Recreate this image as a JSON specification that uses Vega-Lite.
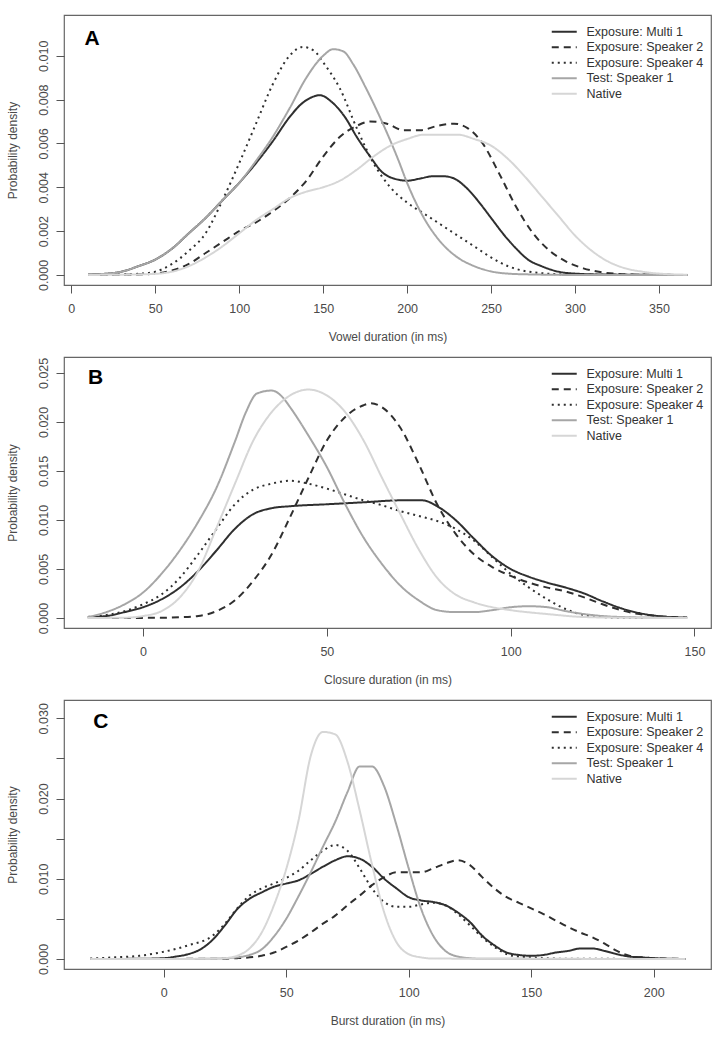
{
"$schema": "https://vega.github.io/schema/vega-lite/v6.json",
"padding": {"left": 5, "top": 14, "right": 14, "bottom": 5},
"bounds": "flush",
"spacing": 72,
"config": {
 "view": {"stroke": "#666666", "strokeWidth": 1.2},
 "axis": {"grid": false, "domain": false, "tickColor": "#555555", "tickSize": 8, "tickWidth": 1, "labelFont": "Liberation Sans", "labelFontSize": 12.5, "labelColor": "#4a4a4a", "titleFont": "Liberation Sans", "titleFontSize": 12, "titleFontWeight": "normal", "titleColor": "#4a4a4a"},
 "axisX": {"labelPadding": 9, "titlePadding": 17, "labelFlush": false, "labelOverlap": false},
 "axisY": {"labelAngle": 270, "labelAlign": "center", "labelBaseline": "bottom", "labelPadding": 6, "titlePadding": 18, "labelOverlap": false},
 "legend": {"orient": "none", "legendX": 494, "legendY": 10.5, "symbolType": "M-4,0H4", "symbolSize": 39, "symbolStrokeWidth": 2, "labelFont": "Liberation Sans", "labelFontSize": 12.5, "labelColor": "#333333", "labelOffset": 16, "rowPadding": 2.5, "labelLimit": 300}
},
"resolve": {"scale": {"x": "independent", "y": "independent", "color": "independent", "strokeDash": "independent"}, "legend": {"color": "independent", "strokeDash": "independent"}},
"datasets": {
"A": [
{"s":"Exposure: Multi 1","x":10,"y":0.00002},{"s":"Exposure: Multi 1","x":20,"y":0.00005},{"s":"Exposure: Multi 1","x":30,"y":0.00015},{"s":"Exposure: Multi 1","x":40,"y":0.0004},{"s":"Exposure: Multi 1","x":50,"y":0.0007},{"s":"Exposure: Multi 1","x":60,"y":0.0012},{"s":"Exposure: Multi 1","x":70,"y":0.0019},{"s":"Exposure: Multi 1","x":80,"y":0.0026},{"s":"Exposure: Multi 1","x":90,"y":0.0034},{"s":"Exposure: Multi 1","x":100,"y":0.0042},{"s":"Exposure: Multi 1","x":110,"y":0.0051},{"s":"Exposure: Multi 1","x":120,"y":0.0061},{"s":"Exposure: Multi 1","x":130,"y":0.0072},{"s":"Exposure: Multi 1","x":137,"y":0.0078},{"s":"Exposure: Multi 1","x":143,"y":0.0081},{"s":"Exposure: Multi 1","x":148,"y":0.0082},{"s":"Exposure: Multi 1","x":155,"y":0.0079},{"s":"Exposure: Multi 1","x":163,"y":0.0072},{"s":"Exposure: Multi 1","x":170,"y":0.0063},{"s":"Exposure: Multi 1","x":178,"y":0.0054},{"s":"Exposure: Multi 1","x":185,"y":0.0047},{"s":"Exposure: Multi 1","x":192,"y":0.0044},{"s":"Exposure: Multi 1","x":200,"y":0.0043},{"s":"Exposure: Multi 1","x":208,"y":0.0044},{"s":"Exposure: Multi 1","x":215,"y":0.0045},{"s":"Exposure: Multi 1","x":222,"y":0.0045},{"s":"Exposure: Multi 1","x":228,"y":0.0044},{"s":"Exposure: Multi 1","x":235,"y":0.004},{"s":"Exposure: Multi 1","x":242,"y":0.0034},{"s":"Exposure: Multi 1","x":250,"y":0.0026},{"s":"Exposure: Multi 1","x":258,"y":0.0018},{"s":"Exposure: Multi 1","x":265,"y":0.0012},{"s":"Exposure: Multi 1","x":272,"y":0.0007},{"s":"Exposure: Multi 1","x":280,"y":0.0004},{"s":"Exposure: Multi 1","x":290,"y":0.00015},{"s":"Exposure: Multi 1","x":300,"y":0.00006},{"s":"Exposure: Multi 1","x":315,"y":0.00002},{"s":"Exposure: Multi 1","x":367,"y":0},
{"s":"Exposure: Speaker 2","x":10,"y":0},{"s":"Exposure: Speaker 2","x":40,"y":0.00002},{"s":"Exposure: Speaker 2","x":50,"y":0.00006},{"s":"Exposure: Speaker 2","x":60,"y":0.0002},{"s":"Exposure: Speaker 2","x":70,"y":0.0005},{"s":"Exposure: Speaker 2","x":80,"y":0.001},{"s":"Exposure: Speaker 2","x":90,"y":0.0015},{"s":"Exposure: Speaker 2","x":100,"y":0.002},{"s":"Exposure: Speaker 2","x":110,"y":0.0024},{"s":"Exposure: Speaker 2","x":120,"y":0.0029},{"s":"Exposure: Speaker 2","x":130,"y":0.0035},{"s":"Exposure: Speaker 2","x":140,"y":0.0043},{"s":"Exposure: Speaker 2","x":150,"y":0.0054},{"s":"Exposure: Speaker 2","x":160,"y":0.0063},{"s":"Exposure: Speaker 2","x":170,"y":0.0068},{"s":"Exposure: Speaker 2","x":178,"y":0.007},{"s":"Exposure: Speaker 2","x":188,"y":0.0069},{"s":"Exposure: Speaker 2","x":198,"y":0.0066},{"s":"Exposure: Speaker 2","x":208,"y":0.0066},{"s":"Exposure: Speaker 2","x":218,"y":0.0068},{"s":"Exposure: Speaker 2","x":228,"y":0.0069},{"s":"Exposure: Speaker 2","x":236,"y":0.0067},{"s":"Exposure: Speaker 2","x":245,"y":0.006},{"s":"Exposure: Speaker 2","x":255,"y":0.0046},{"s":"Exposure: Speaker 2","x":265,"y":0.0031},{"s":"Exposure: Speaker 2","x":275,"y":0.0019},{"s":"Exposure: Speaker 2","x":285,"y":0.0011},{"s":"Exposure: Speaker 2","x":295,"y":0.0006},{"s":"Exposure: Speaker 2","x":305,"y":0.0003},{"s":"Exposure: Speaker 2","x":315,"y":0.00013},{"s":"Exposure: Speaker 2","x":325,"y":0.00005},{"s":"Exposure: Speaker 2","x":340,"y":0.00001},{"s":"Exposure: Speaker 2","x":367,"y":0},
{"s":"Exposure: Speaker 4","x":10,"y":0},{"s":"Exposure: Speaker 4","x":30,"y":0.00002},{"s":"Exposure: Speaker 4","x":40,"y":0.00005},{"s":"Exposure: Speaker 4","x":50,"y":0.00015},{"s":"Exposure: Speaker 4","x":60,"y":0.0005},{"s":"Exposure: Speaker 4","x":70,"y":0.0011},{"s":"Exposure: Speaker 4","x":80,"y":0.0019},{"s":"Exposure: Speaker 4","x":90,"y":0.0034},{"s":"Exposure: Speaker 4","x":100,"y":0.0051},{"s":"Exposure: Speaker 4","x":110,"y":0.0069},{"s":"Exposure: Speaker 4","x":120,"y":0.0087},{"s":"Exposure: Speaker 4","x":130,"y":0.01},{"s":"Exposure: Speaker 4","x":138,"y":0.0104},{"s":"Exposure: Speaker 4","x":145,"y":0.0102},{"s":"Exposure: Speaker 4","x":150,"y":0.0097},{"s":"Exposure: Speaker 4","x":160,"y":0.0085},{"s":"Exposure: Speaker 4","x":170,"y":0.0067},{"s":"Exposure: Speaker 4","x":180,"y":0.0051},{"s":"Exposure: Speaker 4","x":190,"y":0.004},{"s":"Exposure: Speaker 4","x":200,"y":0.0033},{"s":"Exposure: Speaker 4","x":210,"y":0.0028},{"s":"Exposure: Speaker 4","x":220,"y":0.0023},{"s":"Exposure: Speaker 4","x":230,"y":0.0018},{"s":"Exposure: Speaker 4","x":240,"y":0.0013},{"s":"Exposure: Speaker 4","x":250,"y":0.0008},{"s":"Exposure: Speaker 4","x":260,"y":0.0004},{"s":"Exposure: Speaker 4","x":270,"y":0.00018},{"s":"Exposure: Speaker 4","x":280,"y":0.00008},{"s":"Exposure: Speaker 4","x":300,"y":0.00001},{"s":"Exposure: Speaker 4","x":367,"y":0},
{"s":"Test: Speaker 1","x":10,"y":0.00002},{"s":"Test: Speaker 1","x":20,"y":0.00005},{"s":"Test: Speaker 1","x":30,"y":0.00015},{"s":"Test: Speaker 1","x":40,"y":0.0004},{"s":"Test: Speaker 1","x":50,"y":0.0007},{"s":"Test: Speaker 1","x":60,"y":0.0012},{"s":"Test: Speaker 1","x":70,"y":0.0019},{"s":"Test: Speaker 1","x":80,"y":0.0026},{"s":"Test: Speaker 1","x":90,"y":0.0034},{"s":"Test: Speaker 1","x":100,"y":0.0042},{"s":"Test: Speaker 1","x":110,"y":0.0052},{"s":"Test: Speaker 1","x":120,"y":0.0063},{"s":"Test: Speaker 1","x":130,"y":0.0076},{"s":"Test: Speaker 1","x":140,"y":0.009},{"s":"Test: Speaker 1","x":150,"y":0.01},{"s":"Test: Speaker 1","x":156,"y":0.0103},{"s":"Test: Speaker 1","x":162,"y":0.0102},{"s":"Test: Speaker 1","x":168,"y":0.0096},{"s":"Test: Speaker 1","x":175,"y":0.0086},{"s":"Test: Speaker 1","x":185,"y":0.007},{"s":"Test: Speaker 1","x":195,"y":0.0052},{"s":"Test: Speaker 1","x":200,"y":0.0042},{"s":"Test: Speaker 1","x":210,"y":0.0026},{"s":"Test: Speaker 1","x":220,"y":0.0015},{"s":"Test: Speaker 1","x":230,"y":0.0008},{"s":"Test: Speaker 1","x":240,"y":0.0004},{"s":"Test: Speaker 1","x":250,"y":0.00016},{"s":"Test: Speaker 1","x":260,"y":0.00006},{"s":"Test: Speaker 1","x":275,"y":0.00002},{"s":"Test: Speaker 1","x":300,"y":0},{"s":"Test: Speaker 1","x":367,"y":0},
{"s":"Native","x":10,"y":0},{"s":"Native","x":30,"y":0.00001},{"s":"Native","x":50,"y":0.00005},{"s":"Native","x":60,"y":0.00015},{"s":"Native","x":70,"y":0.0004},{"s":"Native","x":80,"y":0.0008},{"s":"Native","x":90,"y":0.0013},{"s":"Native","x":100,"y":0.0019},{"s":"Native","x":110,"y":0.0025},{"s":"Native","x":120,"y":0.003},{"s":"Native","x":130,"y":0.0035},{"s":"Native","x":140,"y":0.0038},{"s":"Native","x":150,"y":0.004},{"s":"Native","x":160,"y":0.0043},{"s":"Native","x":170,"y":0.0048},{"s":"Native","x":180,"y":0.0054},{"s":"Native","x":190,"y":0.0059},{"s":"Native","x":200,"y":0.0062},{"s":"Native","x":210,"y":0.0064},{"s":"Native","x":220,"y":0.0064},{"s":"Native","x":230,"y":0.0064},{"s":"Native","x":240,"y":0.0062},{"s":"Native","x":250,"y":0.0059},{"s":"Native","x":260,"y":0.0053},{"s":"Native","x":270,"y":0.0045},{"s":"Native","x":280,"y":0.0036},{"s":"Native","x":290,"y":0.0027},{"s":"Native","x":300,"y":0.0018},{"s":"Native","x":310,"y":0.0011},{"s":"Native","x":320,"y":0.0006},{"s":"Native","x":330,"y":0.0003},{"s":"Native","x":340,"y":0.00015},{"s":"Native","x":350,"y":0.00006},{"s":"Native","x":367,"y":0.00001}
],
"B": [
{"s":"Exposure: Multi 1","x":-15,"y":0.0001},{"s":"Exposure: Multi 1","x":-10,"y":0.0002},{"s":"Exposure: Multi 1","x":-5,"y":0.0006},{"s":"Exposure: Multi 1","x":0,"y":0.0011},{"s":"Exposure: Multi 1","x":5,"y":0.0019},{"s":"Exposure: Multi 1","x":10,"y":0.0031},{"s":"Exposure: Multi 1","x":15,"y":0.0048},{"s":"Exposure: Multi 1","x":20,"y":0.0069},{"s":"Exposure: Multi 1","x":25,"y":0.0091},{"s":"Exposure: Multi 1","x":30,"y":0.0106},{"s":"Exposure: Multi 1","x":35,"y":0.0112},{"s":"Exposure: Multi 1","x":40,"y":0.0114},{"s":"Exposure: Multi 1","x":50,"y":0.0116},{"s":"Exposure: Multi 1","x":60,"y":0.0118},{"s":"Exposure: Multi 1","x":70,"y":0.012},{"s":"Exposure: Multi 1","x":76,"y":0.012},{"s":"Exposure: Multi 1","x":80,"y":0.0114},{"s":"Exposure: Multi 1","x":85,"y":0.01},{"s":"Exposure: Multi 1","x":90,"y":0.0081},{"s":"Exposure: Multi 1","x":95,"y":0.0063},{"s":"Exposure: Multi 1","x":100,"y":0.005},{"s":"Exposure: Multi 1","x":105,"y":0.0042},{"s":"Exposure: Multi 1","x":110,"y":0.0036},{"s":"Exposure: Multi 1","x":115,"y":0.0031},{"s":"Exposure: Multi 1","x":120,"y":0.0025},{"s":"Exposure: Multi 1","x":125,"y":0.0017},{"s":"Exposure: Multi 1","x":130,"y":0.001},{"s":"Exposure: Multi 1","x":135,"y":0.0005},{"s":"Exposure: Multi 1","x":140,"y":0.0002},{"s":"Exposure: Multi 1","x":148,"y":0.00003},
{"s":"Exposure: Speaker 2","x":-15,"y":0},{"s":"Exposure: Speaker 2","x":5,"y":0.00002},{"s":"Exposure: Speaker 2","x":10,"y":0.00008},{"s":"Exposure: Speaker 2","x":15,"y":0.0002},{"s":"Exposure: Speaker 2","x":20,"y":0.0007},{"s":"Exposure: Speaker 2","x":25,"y":0.0018},{"s":"Exposure: Speaker 2","x":30,"y":0.0038},{"s":"Exposure: Speaker 2","x":35,"y":0.0065},{"s":"Exposure: Speaker 2","x":40,"y":0.0103},{"s":"Exposure: Speaker 2","x":45,"y":0.0143},{"s":"Exposure: Speaker 2","x":50,"y":0.0181},{"s":"Exposure: Speaker 2","x":55,"y":0.0205},{"s":"Exposure: Speaker 2","x":60,"y":0.0217},{"s":"Exposure: Speaker 2","x":62,"y":0.0219},{"s":"Exposure: Speaker 2","x":65,"y":0.0215},{"s":"Exposure: Speaker 2","x":70,"y":0.0194},{"s":"Exposure: Speaker 2","x":75,"y":0.0157},{"s":"Exposure: Speaker 2","x":80,"y":0.0116},{"s":"Exposure: Speaker 2","x":85,"y":0.0086},{"s":"Exposure: Speaker 2","x":90,"y":0.0065},{"s":"Exposure: Speaker 2","x":95,"y":0.0052},{"s":"Exposure: Speaker 2","x":100,"y":0.0043},{"s":"Exposure: Speaker 2","x":105,"y":0.0036},{"s":"Exposure: Speaker 2","x":110,"y":0.0031},{"s":"Exposure: Speaker 2","x":115,"y":0.0027},{"s":"Exposure: Speaker 2","x":120,"y":0.0021},{"s":"Exposure: Speaker 2","x":125,"y":0.0014},{"s":"Exposure: Speaker 2","x":130,"y":0.0008},{"s":"Exposure: Speaker 2","x":135,"y":0.0004},{"s":"Exposure: Speaker 2","x":140,"y":0.0002},{"s":"Exposure: Speaker 2","x":148,"y":0.00005},
{"s":"Exposure: Speaker 4","x":-15,"y":0.0001},{"s":"Exposure: Speaker 4","x":-10,"y":0.0003},{"s":"Exposure: Speaker 4","x":-5,"y":0.0007},{"s":"Exposure: Speaker 4","x":0,"y":0.0014},{"s":"Exposure: Speaker 4","x":5,"y":0.0024},{"s":"Exposure: Speaker 4","x":10,"y":0.0041},{"s":"Exposure: Speaker 4","x":15,"y":0.0065},{"s":"Exposure: Speaker 4","x":20,"y":0.0091},{"s":"Exposure: Speaker 4","x":25,"y":0.0116},{"s":"Exposure: Speaker 4","x":30,"y":0.0131},{"s":"Exposure: Speaker 4","x":35,"y":0.0137},{"s":"Exposure: Speaker 4","x":40,"y":0.014},{"s":"Exposure: Speaker 4","x":45,"y":0.0137},{"s":"Exposure: Speaker 4","x":50,"y":0.0132},{"s":"Exposure: Speaker 4","x":55,"y":0.0126},{"s":"Exposure: Speaker 4","x":60,"y":0.012},{"s":"Exposure: Speaker 4","x":65,"y":0.0115},{"s":"Exposure: Speaker 4","x":70,"y":0.0109},{"s":"Exposure: Speaker 4","x":75,"y":0.0104},{"s":"Exposure: Speaker 4","x":80,"y":0.0099},{"s":"Exposure: Speaker 4","x":85,"y":0.0091},{"s":"Exposure: Speaker 4","x":90,"y":0.0079},{"s":"Exposure: Speaker 4","x":95,"y":0.0062},{"s":"Exposure: Speaker 4","x":100,"y":0.0045},{"s":"Exposure: Speaker 4","x":105,"y":0.0031},{"s":"Exposure: Speaker 4","x":110,"y":0.0019},{"s":"Exposure: Speaker 4","x":115,"y":0.0009},{"s":"Exposure: Speaker 4","x":120,"y":0.0003},{"s":"Exposure: Speaker 4","x":125,"y":0.0001},{"s":"Exposure: Speaker 4","x":130,"y":0.00002},{"s":"Exposure: Speaker 4","x":148,"y":0},
{"s":"Test: Speaker 1","x":-15,"y":0.0001},{"s":"Test: Speaker 1","x":-10,"y":0.0006},{"s":"Test: Speaker 1","x":-5,"y":0.0014},{"s":"Test: Speaker 1","x":0,"y":0.0026},{"s":"Test: Speaker 1","x":5,"y":0.0045},{"s":"Test: Speaker 1","x":10,"y":0.0069},{"s":"Test: Speaker 1","x":15,"y":0.0098},{"s":"Test: Speaker 1","x":20,"y":0.0133},{"s":"Test: Speaker 1","x":25,"y":0.018},{"s":"Test: Speaker 1","x":28,"y":0.021},{"s":"Test: Speaker 1","x":31,"y":0.0229},{"s":"Test: Speaker 1","x":35,"y":0.0232},{"s":"Test: Speaker 1","x":38,"y":0.0225},{"s":"Test: Speaker 1","x":40,"y":0.0215},{"s":"Test: Speaker 1","x":45,"y":0.0186},{"s":"Test: Speaker 1","x":50,"y":0.0154},{"s":"Test: Speaker 1","x":55,"y":0.0116},{"s":"Test: Speaker 1","x":60,"y":0.0082},{"s":"Test: Speaker 1","x":65,"y":0.0055},{"s":"Test: Speaker 1","x":70,"y":0.0033},{"s":"Test: Speaker 1","x":75,"y":0.0018},{"s":"Test: Speaker 1","x":80,"y":0.0008},{"s":"Test: Speaker 1","x":85,"y":0.0006},{"s":"Test: Speaker 1","x":90,"y":0.0006},{"s":"Test: Speaker 1","x":95,"y":0.0008},{"s":"Test: Speaker 1","x":100,"y":0.0011},{"s":"Test: Speaker 1","x":105,"y":0.0012},{"s":"Test: Speaker 1","x":110,"y":0.0011},{"s":"Test: Speaker 1","x":115,"y":0.0007},{"s":"Test: Speaker 1","x":120,"y":0.0004},{"s":"Test: Speaker 1","x":125,"y":0.0002},{"s":"Test: Speaker 1","x":130,"y":0.0001},{"s":"Test: Speaker 1","x":148,"y":0},
{"s":"Native","x":-15,"y":0},{"s":"Native","x":-5,"y":0.00003},{"s":"Native","x":0,"y":0.0002},{"s":"Native","x":5,"y":0.0007},{"s":"Native","x":10,"y":0.0021},{"s":"Native","x":15,"y":0.0048},{"s":"Native","x":20,"y":0.0092},{"s":"Native","x":25,"y":0.0137},{"s":"Native","x":30,"y":0.0181},{"s":"Native","x":35,"y":0.021},{"s":"Native","x":40,"y":0.0227},{"s":"Native","x":45,"y":0.0233},{"s":"Native","x":50,"y":0.0227},{"s":"Native","x":55,"y":0.021},{"s":"Native","x":60,"y":0.0181},{"s":"Native","x":65,"y":0.0143},{"s":"Native","x":70,"y":0.0106},{"s":"Native","x":75,"y":0.007},{"s":"Native","x":80,"y":0.0041},{"s":"Native","x":85,"y":0.0024},{"s":"Native","x":90,"y":0.0016},{"s":"Native","x":95,"y":0.0011},{"s":"Native","x":100,"y":0.0008},{"s":"Native","x":110,"y":0.0004},{"s":"Native","x":120,"y":0.0001},{"s":"Native","x":130,"y":0.00003},{"s":"Native","x":148,"y":0}
],
"C": [
{"s":"Exposure: Multi 1","x":-30,"y":0},{"s":"Exposure: Multi 1","x":-10,"y":0.00002},{"s":"Exposure: Multi 1","x":0,"y":0.0001},{"s":"Exposure: Multi 1","x":5,"y":0.0003},{"s":"Exposure: Multi 1","x":10,"y":0.0006},{"s":"Exposure: Multi 1","x":15,"y":0.0012},{"s":"Exposure: Multi 1","x":20,"y":0.0024},{"s":"Exposure: Multi 1","x":25,"y":0.0042},{"s":"Exposure: Multi 1","x":30,"y":0.0062},{"s":"Exposure: Multi 1","x":35,"y":0.0075},{"s":"Exposure: Multi 1","x":40,"y":0.0083},{"s":"Exposure: Multi 1","x":45,"y":0.009},{"s":"Exposure: Multi 1","x":50,"y":0.0094},{"s":"Exposure: Multi 1","x":55,"y":0.0098},{"s":"Exposure: Multi 1","x":60,"y":0.0106},{"s":"Exposure: Multi 1","x":65,"y":0.0115},{"s":"Exposure: Multi 1","x":70,"y":0.0123},{"s":"Exposure: Multi 1","x":75,"y":0.0128},{"s":"Exposure: Multi 1","x":80,"y":0.0125},{"s":"Exposure: Multi 1","x":85,"y":0.0115},{"s":"Exposure: Multi 1","x":90,"y":0.01},{"s":"Exposure: Multi 1","x":95,"y":0.0088},{"s":"Exposure: Multi 1","x":100,"y":0.0077},{"s":"Exposure: Multi 1","x":105,"y":0.0073},{"s":"Exposure: Multi 1","x":110,"y":0.0071},{"s":"Exposure: Multi 1","x":115,"y":0.0067},{"s":"Exposure: Multi 1","x":120,"y":0.0058},{"s":"Exposure: Multi 1","x":125,"y":0.0046},{"s":"Exposure: Multi 1","x":130,"y":0.0029},{"s":"Exposure: Multi 1","x":135,"y":0.0017},{"s":"Exposure: Multi 1","x":140,"y":0.0008},{"s":"Exposure: Multi 1","x":145,"y":0.0005},{"s":"Exposure: Multi 1","x":150,"y":0.0004},{"s":"Exposure: Multi 1","x":155,"y":0.0005},{"s":"Exposure: Multi 1","x":160,"y":0.0008},{"s":"Exposure: Multi 1","x":165,"y":0.001},{"s":"Exposure: Multi 1","x":170,"y":0.0013},{"s":"Exposure: Multi 1","x":175,"y":0.0013},{"s":"Exposure: Multi 1","x":180,"y":0.001},{"s":"Exposure: Multi 1","x":185,"y":0.0006},{"s":"Exposure: Multi 1","x":190,"y":0.0003},{"s":"Exposure: Multi 1","x":195,"y":0.0002},{"s":"Exposure: Multi 1","x":200,"y":0.0001},{"s":"Exposure: Multi 1","x":213,"y":0},
{"s":"Exposure: Speaker 2","x":-30,"y":0},{"s":"Exposure: Speaker 2","x":20,"y":0.00002},{"s":"Exposure: Speaker 2","x":30,"y":0.0001},{"s":"Exposure: Speaker 2","x":40,"y":0.0004},{"s":"Exposure: Speaker 2","x":45,"y":0.0008},{"s":"Exposure: Speaker 2","x":50,"y":0.0015},{"s":"Exposure: Speaker 2","x":55,"y":0.0023},{"s":"Exposure: Speaker 2","x":60,"y":0.0033},{"s":"Exposure: Speaker 2","x":65,"y":0.0044},{"s":"Exposure: Speaker 2","x":70,"y":0.0054},{"s":"Exposure: Speaker 2","x":75,"y":0.0067},{"s":"Exposure: Speaker 2","x":80,"y":0.0079},{"s":"Exposure: Speaker 2","x":85,"y":0.0092},{"s":"Exposure: Speaker 2","x":90,"y":0.0102},{"s":"Exposure: Speaker 2","x":95,"y":0.0108},{"s":"Exposure: Speaker 2","x":100,"y":0.0108},{"s":"Exposure: Speaker 2","x":105,"y":0.0108},{"s":"Exposure: Speaker 2","x":110,"y":0.0113},{"s":"Exposure: Speaker 2","x":115,"y":0.0119},{"s":"Exposure: Speaker 2","x":120,"y":0.0123},{"s":"Exposure: Speaker 2","x":125,"y":0.0117},{"s":"Exposure: Speaker 2","x":130,"y":0.0102},{"s":"Exposure: Speaker 2","x":135,"y":0.0088},{"s":"Exposure: Speaker 2","x":140,"y":0.0077},{"s":"Exposure: Speaker 2","x":145,"y":0.007},{"s":"Exposure: Speaker 2","x":150,"y":0.0063},{"s":"Exposure: Speaker 2","x":155,"y":0.0056},{"s":"Exposure: Speaker 2","x":160,"y":0.0048},{"s":"Exposure: Speaker 2","x":165,"y":0.004},{"s":"Exposure: Speaker 2","x":170,"y":0.0033},{"s":"Exposure: Speaker 2","x":175,"y":0.0027},{"s":"Exposure: Speaker 2","x":180,"y":0.0019},{"s":"Exposure: Speaker 2","x":185,"y":0.001},{"s":"Exposure: Speaker 2","x":190,"y":0.0004},{"s":"Exposure: Speaker 2","x":195,"y":0.0002},{"s":"Exposure: Speaker 2","x":200,"y":0.0001},{"s":"Exposure: Speaker 2","x":213,"y":0},
{"s":"Exposure: Speaker 4","x":-30,"y":0.00005},{"s":"Exposure: Speaker 4","x":-20,"y":0.0002},{"s":"Exposure: Speaker 4","x":-10,"y":0.0004},{"s":"Exposure: Speaker 4","x":0,"y":0.0009},{"s":"Exposure: Speaker 4","x":10,"y":0.0017},{"s":"Exposure: Speaker 4","x":20,"y":0.0029},{"s":"Exposure: Speaker 4","x":25,"y":0.0044},{"s":"Exposure: Speaker 4","x":30,"y":0.0063},{"s":"Exposure: Speaker 4","x":35,"y":0.0079},{"s":"Exposure: Speaker 4","x":40,"y":0.0088},{"s":"Exposure: Speaker 4","x":45,"y":0.0094},{"s":"Exposure: Speaker 4","x":50,"y":0.0101},{"s":"Exposure: Speaker 4","x":55,"y":0.011},{"s":"Exposure: Speaker 4","x":60,"y":0.0123},{"s":"Exposure: Speaker 4","x":65,"y":0.0135},{"s":"Exposure: Speaker 4","x":70,"y":0.0142},{"s":"Exposure: Speaker 4","x":75,"y":0.0135},{"s":"Exposure: Speaker 4","x":80,"y":0.0113},{"s":"Exposure: Speaker 4","x":85,"y":0.0088},{"s":"Exposure: Speaker 4","x":90,"y":0.0071},{"s":"Exposure: Speaker 4","x":95,"y":0.0065},{"s":"Exposure: Speaker 4","x":100,"y":0.0065},{"s":"Exposure: Speaker 4","x":105,"y":0.0068},{"s":"Exposure: Speaker 4","x":110,"y":0.007},{"s":"Exposure: Speaker 4","x":115,"y":0.0067},{"s":"Exposure: Speaker 4","x":120,"y":0.0056},{"s":"Exposure: Speaker 4","x":125,"y":0.0042},{"s":"Exposure: Speaker 4","x":130,"y":0.0027},{"s":"Exposure: Speaker 4","x":135,"y":0.0015},{"s":"Exposure: Speaker 4","x":140,"y":0.0006},{"s":"Exposure: Speaker 4","x":145,"y":0.0003},{"s":"Exposure: Speaker 4","x":150,"y":0.0002},{"s":"Exposure: Speaker 4","x":155,"y":0.0001},{"s":"Exposure: Speaker 4","x":165,"y":0.00003},{"s":"Exposure: Speaker 4","x":213,"y":0},
{"s":"Test: Speaker 1","x":-30,"y":0},{"s":"Test: Speaker 1","x":10,"y":0},{"s":"Test: Speaker 1","x":20,"y":0.00003},{"s":"Test: Speaker 1","x":25,"y":0.0001},{"s":"Test: Speaker 1","x":30,"y":0.0002},{"s":"Test: Speaker 1","x":35,"y":0.0005},{"s":"Test: Speaker 1","x":40,"y":0.0012},{"s":"Test: Speaker 1","x":45,"y":0.0028},{"s":"Test: Speaker 1","x":50,"y":0.005},{"s":"Test: Speaker 1","x":55,"y":0.0078},{"s":"Test: Speaker 1","x":60,"y":0.0108},{"s":"Test: Speaker 1","x":65,"y":0.014},{"s":"Test: Speaker 1","x":70,"y":0.0171},{"s":"Test: Speaker 1","x":75,"y":0.0208},{"s":"Test: Speaker 1","x":80,"y":0.024},{"s":"Test: Speaker 1","x":85,"y":0.024},{"s":"Test: Speaker 1","x":90,"y":0.0215},{"s":"Test: Speaker 1","x":95,"y":0.0167},{"s":"Test: Speaker 1","x":100,"y":0.0113},{"s":"Test: Speaker 1","x":105,"y":0.0063},{"s":"Test: Speaker 1","x":110,"y":0.0029},{"s":"Test: Speaker 1","x":115,"y":0.001},{"s":"Test: Speaker 1","x":120,"y":0.0003},{"s":"Test: Speaker 1","x":125,"y":0.0001},{"s":"Test: Speaker 1","x":130,"y":0.00002},{"s":"Test: Speaker 1","x":213,"y":0},
{"s":"Native","x":-30,"y":0},{"s":"Native","x":0,"y":0},{"s":"Native","x":20,"y":0.00003},{"s":"Native","x":25,"y":0.0001},{"s":"Native","x":30,"y":0.0004},{"s":"Native","x":35,"y":0.0013},{"s":"Native","x":40,"y":0.0033},{"s":"Native","x":45,"y":0.0067},{"s":"Native","x":50,"y":0.0112},{"s":"Native","x":55,"y":0.0172},{"s":"Native","x":60,"y":0.0253},{"s":"Native","x":65,"y":0.0283},{"s":"Native","x":70,"y":0.028},{"s":"Native","x":75,"y":0.0246},{"s":"Native","x":80,"y":0.0185},{"s":"Native","x":85,"y":0.0118},{"s":"Native","x":90,"y":0.0058},{"s":"Native","x":95,"y":0.0021},{"s":"Native","x":100,"y":0.0006},{"s":"Native","x":105,"y":0.0002},{"s":"Native","x":110,"y":0.00005},{"s":"Native","x":213,"y":0}
]
},
"vconcat": [
{
 "width": 647, "height": 270,
 "layer": [
  {"data": {"name": "A"},
   "mark": {"type": "line", "strokeWidth": 2, "interpolate": "monotone"},
   "encoding": {
    "x": {"field": "x", "type": "quantitative", "scale": {"domain": [-4.35, 381], "nice": false, "zero": false}, "axis": {"values": [0,50,100,150,200,250,300,350], "title": "Vowel duration (in ms)"}},
    "y": {"field": "y", "type": "quantitative", "scale": {"domain": [-0.00046, 0.01186], "nice": false, "zero": false}, "axis": {"values": [0,0.002,0.004,0.006,0.008,0.01], "format": ".3f", "title": "Probability density"}},
    "color": {"field": "s", "type": "nominal", "scale": {"domain": ["Exposure: Multi 1","Exposure: Speaker 2","Exposure: Speaker 4","Test: Speaker 1","Native"], "range": ["#2f2f2f","#2f2f2f","#2f2f2f","#a6a6a6","#d6d6d6"]}, "legend": {"title": null}},
    "strokeDash": {"field": "s", "type": "nominal", "scale": {"domain": ["Exposure: Multi 1","Exposure: Speaker 2","Exposure: Speaker 4","Test: Speaker 1","Native"], "range": [[1,0],[7,5],[2,4],[1,0],[1,0]]}, "legend": {"title": null}}
   }},
  {"data": {"values": [{"label": "A"}]},
   "mark": {"type": "text", "font": "Liberation Sans", "fontSize": 21, "fontWeight": "bold", "color": "#000000"},
   "encoding": {"x": {"datum": 12.3}, "y": {"datum": 0.01078}, "text": {"field": "label"}}}
 ]
},
{
 "width": 647, "height": 271,
 "layer": [
  {"data": {"name": "B"},
   "mark": {"type": "line", "strokeWidth": 2, "interpolate": "monotone"},
   "encoding": {
    "x": {"field": "x", "type": "quantitative", "scale": {"domain": [-21.5, 154.5], "nice": false, "zero": false}, "axis": {"values": [0,50,100,150], "title": "Closure duration (in ms)"}},
    "y": {"field": "y", "type": "quantitative", "scale": {"domain": [-0.00102, 0.02662], "nice": false, "zero": false}, "axis": {"values": [0,0.005,0.01,0.015,0.02,0.025], "format": ".3f", "title": "Probability density"}},
    "color": {"field": "s", "type": "nominal", "scale": {"domain": ["Exposure: Multi 1","Exposure: Speaker 2","Exposure: Speaker 4","Test: Speaker 1","Native"], "range": ["#2f2f2f","#2f2f2f","#2f2f2f","#a6a6a6","#d6d6d6"]}, "legend": {"title": null}},
    "strokeDash": {"field": "s", "type": "nominal", "scale": {"domain": ["Exposure: Multi 1","Exposure: Speaker 2","Exposure: Speaker 4","Test: Speaker 1","Native"], "range": [[1,0],[7,5],[2,4],[1,0],[1,0]]}, "legend": {"title": null}}
   }},
  {"data": {"values": [{"label": "B"}]},
   "mark": {"type": "text", "font": "Liberation Sans", "fontSize": 21, "fontWeight": "bold", "color": "#000000"},
   "encoding": {"x": {"datum": -12.9}, "y": {"datum": 0.02449}, "text": {"field": "label"}}}
 ]
},
{
 "width": 647, "height": 269,
 "layer": [
  {"data": {"name": "C"},
   "mark": {"type": "line", "strokeWidth": 2, "interpolate": "monotone"},
   "encoding": {
    "x": {"field": "x", "type": "quantitative", "scale": {"domain": [-40.7, 223.4], "nice": false, "zero": false}, "axis": {"values": [0,50,100,150,200], "title": "Burst duration (in ms)"}},
    "y": {"field": "y", "type": "quantitative", "scale": {"domain": [-0.00125, 0.03228], "nice": false, "zero": false}, "axis": {"values": [0,0.005,0.01,0.015,0.02,0.025,0.03], "labelExpr": "round(datum.value*1000) % 10 == 0 ? format(datum.value, '.3f') : ''", "title": "Probability density"}},
    "color": {"field": "s", "type": "nominal", "scale": {"domain": ["Exposure: Multi 1","Exposure: Speaker 2","Exposure: Speaker 4","Test: Speaker 1","Native"], "range": ["#2f2f2f","#2f2f2f","#2f2f2f","#a6a6a6","#d6d6d6"]}, "legend": {"title": null}},
    "strokeDash": {"field": "s", "type": "nominal", "scale": {"domain": ["Exposure: Multi 1","Exposure: Speaker 2","Exposure: Speaker 4","Test: Speaker 1","Native"], "range": [[1,0],[7,5],[2,4],[1,0],[1,0]]}, "legend": {"title": null}}
   }},
  {"data": {"values": [{"label": "C"}]},
   "mark": {"type": "text", "font": "Liberation Sans", "fontSize": 21, "fontWeight": "bold", "color": "#000000"},
   "encoding": {"x": {"datum": -25.7}, "y": {"datum": 0.0295}, "text": {"field": "label"}}}
 ]
}
]
}
